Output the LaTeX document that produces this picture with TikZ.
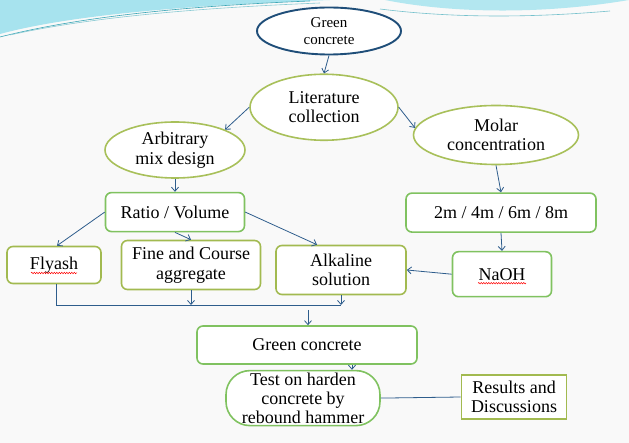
\documentclass[tikz,border=0pt]{standalone}
\usepackage{fontspec}
\setmainfont{Liberation Serif}
\usepackage{xcolor}
\usepackage{tikz}
\usetikzlibrary{arrows.meta,positioning,shapes.geometric,decorations.pathmorphing}
\definecolor{ovalgreen}{HTML}{A8C05A}
\definecolor{boxgreen}{HTML}{80C260}
\definecolor{olivegreen}{HTML}{A2BA50}
\definecolor{arrowblue}{HTML}{2E5D8C}
\definecolor{navyline}{HTML}{1F4E79}
\definecolor{slidebg}{HTML}{F9F9F9}
\definecolor{swooshcyan}{HTML}{8ADAE8}
\definecolor{swooshteal}{HTML}{3AA6B6}
\tikzset{
  ovalbox/.style={
    ellipse,
    draw=ovalgreen,
    line width=1.6pt,
    fill=white,
    align=center,
    inner sep=0pt,
    font=\fontsize{18}{19.5}\selectfont
  },
  topoval/.style={ovalbox, draw=navyline, line width=1.9pt, font=\fontsize{15}{17}\selectfont},
  greenbox/.style={
    draw=boxgreen,
    rounded corners=6pt,
    line width=1.6pt,
    fill=white,
    align=center,
    inner sep=0pt,
    font=\fontsize{18}{19.5}\selectfont
  },
  olivebox/.style={greenbox, draw=olivegreen},
  flow/.style={-{Straight Barb[length=4pt,width=7pt]}, draw=arrowblue, line width=0.8pt},
  link/.style={draw=arrowblue, line width=0.8pt},
  squiggle/.style={draw=red, line width=0.5pt, decorate,
    decoration={snake, amplitude=0.7pt, segment length=2.5pt}}
}

\begin{document}
\begin{tikzpicture}[x=1pt, y=-1pt]
\useasboundingbox (0,0) rectangle (629,443);
\fill[slidebg] (0,0) rectangle (629,443);
% slide banner
\fill[swooshcyan!75] (0,0) -- (0,34) .. controls (70,15) and (190,5) .. (330,0) -- cycle;
\draw[swooshteal, line width=0.6pt] (0,37) .. controls (90,14) and (210,5) .. (310,1);
\draw[swooshteal!60, line width=0.6pt] (10,35) .. controls (100,15) and (220,7) .. (320,3);
\fill[swooshcyan!65] (385,0) .. controls (450,13) and (540,15) .. (629,0) -- cycle;
\draw[swooshteal!70, line width=0.6pt] (380,9) .. controls (460,19) and (540,17) .. (610,11);

\node[topoval, minimum width=144pt, minimum height=47pt] (top) at (329,31) {Green\\concrete};
\node[ovalbox, minimum width=148pt, minimum height=66pt, below=18pt of top, xshift=-5pt] (lit) {Literature\\collection};
\node[ovalbox, minimum width=140pt, minimum height=56pt] (arb) at (175,150) {Arbitrary\\mix design};
\node[ovalbox, minimum width=165pt, minimum height=59pt] (molar) at (496,135) {Molar\\concentration};
\node[greenbox, minimum width=139pt, minimum height=39pt, below=13pt of arb] (ratio) {Ratio / Volume};
\node[greenbox, minimum width=190pt, minimum height=39pt, below=27pt of molar, xshift=5pt] (conc) {2m / 4m / 6m / 8m};
\node[greenbox, minimum width=99pt, minimum height=45pt, below=18pt of conc, xshift=1pt] (naoh) {NaOH};
\node[olivebox, minimum width=94pt, minimum height=37pt] (flyash) at (54,265) {Flyash};
\node[olivebox, minimum width=139pt, minimum height=49pt] (agg) at (191,265) {Fine and Course\\aggregate};
\node[olivebox, minimum width=130pt, minimum height=49pt] (alk) at (341,270) {Alkaline\\solution};
\node[greenbox, minimum width=220pt, minimum height=38pt] (green) at (307,345) {Green concrete};
\node[greenbox, rounded corners=24pt, minimum width=154pt, minimum height=55pt,
  below=5pt of green, xshift=-4pt, font=\fontsize{18}{19}\selectfont] (test) {Test on harden\\concrete by\\rebound hammer};
\node[olivebox, rounded corners=0pt, minimum width=105pt, minimum height=44pt] (res) at (514,397) {Results and\\Discussions};

% spell-check marks
\draw[squiggle] ([xshift=-23pt,yshift=-8pt]flyash.center) -- ([xshift=23pt,yshift=-8pt]flyash.center);
\draw[squiggle] ([xshift=-24pt,yshift=-9pt]naoh.center) -- ([xshift=24pt,yshift=-9pt]naoh.center);

\draw[flow] (top.south) -- (lit.north);
\draw[flow] (lit.west) -- (arb.north east);
\draw[flow] (lit.east) -- (molar.175);
\draw[flow] (arb.south) -- (ratio.north);
\draw[flow] (molar.south) -- (conc.north);
\draw[flow] (conc.south) -- (naoh.north);
\draw[flow] (naoh.west) -- (alk.east);
\draw[flow] (ratio.west) -- ([xshift=3pt]flyash.north);
\draw[flow] (ratio.south) -- (agg.north);
\draw[flow] (ratio.east) -- ([xshift=-24pt]alk.north);

\coordinate (merge) at (0,305);
\draw[link] ([xshift=2pt]flyash.south) |- (alk.south |- merge);
\draw[flow] (agg.south) -- (agg.south |- merge);
\draw[flow] (alk.south) -- (alk.south |- merge);
\coordinate (feed) at (308,310);
\draw[flow] (feed) -- (feed |- green.north);
\draw[flow] ([xshift=45pt]green.south) -- ([xshift=45pt]green.south |- test.north);
\draw[link] (test.east) -- (res.west);
\end{tikzpicture}
\end{document}
